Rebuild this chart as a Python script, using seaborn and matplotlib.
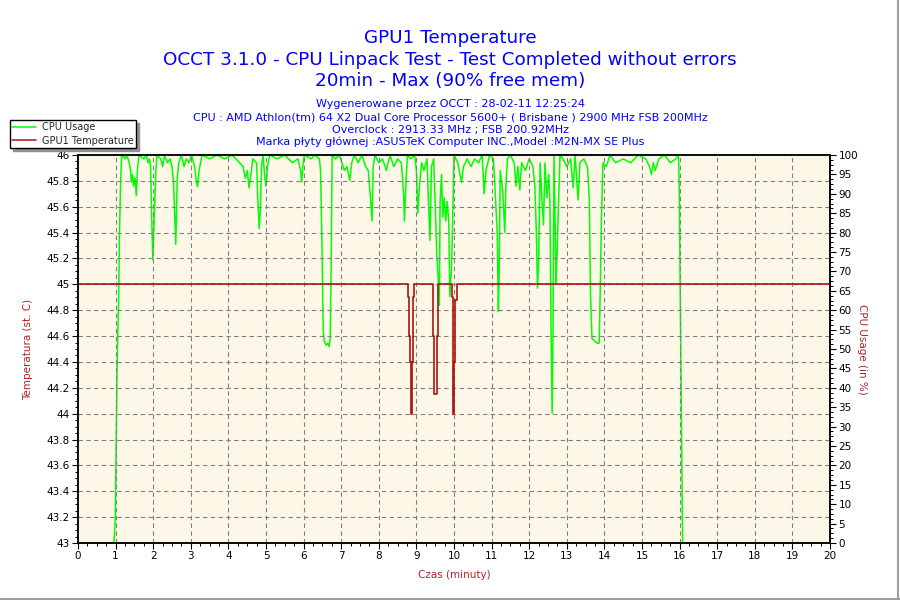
import numpy as np
import matplotlib
matplotlib.use('Agg')
import matplotlib.pyplot as plt
import seaborn as sns
from matplotlib.ticker import MultipleLocator, AutoMinorLocator, FuncFormatter
from matplotlib.lines import Line2D

# CPU usage (minutes, %)
cpu_time = [0.0, 0.95, 0.97, 0.99, 1.02, 1.04, 1.06, 1.08, 1.10, 1.13, 1.16, 1.25, 1.30, 1.36,
            1.40, 1.42, 1.45, 1.48, 1.52, 1.55, 1.58, 1.62, 1.75, 1.82, 1.86, 1.90, 1.93, 1.95,
            1.97, 1.99, 2.01, 2.03, 2.05, 2.07, 2.10, 2.20, 2.25, 2.30, 2.38, 2.45, 2.50, 2.54,
            2.57, 2.60, 2.62, 2.64, 2.68, 2.75, 2.82, 2.88, 2.95, 3.02, 3.10, 3.15, 3.18, 3.22,
            3.30, 3.50, 3.70, 3.90, 4.10, 4.30, 4.39, 4.45, 4.50, 4.55, 4.60, 4.65, 4.75, 4.78,
            4.82, 4.85, 4.88, 4.92, 4.97, 5.00, 5.04, 5.10, 5.30, 5.50, 5.70, 5.85, 5.92, 5.95,
            5.98, 6.02, 6.20, 6.30, 6.42, 6.45, 6.47, 6.50, 6.52, 6.55, 6.60, 6.65, 6.68, 6.71,
            6.73, 6.76, 6.85, 6.95, 7.02, 7.08, 7.15, 7.23, 7.28, 7.35, 7.45, 7.55, 7.65, 7.72,
            7.77, 7.82, 7.85, 7.90, 8.00, 8.10, 8.20, 8.30, 8.40, 8.50, 8.60, 8.66, 8.68, 8.72,
            8.76, 8.85, 8.95, 9.00, 9.04, 9.08, 9.14, 9.20, 9.28, 9.32, 9.36, 9.40, 9.46, 9.50,
            9.54, 9.58, 9.61, 9.63, 9.67, 9.70, 9.74, 9.78, 9.82, 9.86, 9.89, 9.93, 9.96, 10.00,
            10.10, 10.20, 10.25, 10.35, 10.45, 10.55, 10.65, 10.75, 10.80, 10.85, 10.95, 11.05,
            11.15, 11.18, 11.20, 11.23, 11.30, 11.35, 11.38, 11.42, 11.50, 11.60, 11.65, 11.70,
            11.75, 11.80, 11.90, 12.00, 12.10, 12.15, 12.19, 12.22, 12.25, 12.29, 12.33, 12.38,
            12.42, 12.47, 12.52, 12.55, 12.58, 12.61, 12.63, 12.66, 12.69, 12.71, 12.74, 12.78,
            12.82, 12.90, 13.00, 13.10, 13.17, 13.22, 13.30, 13.35, 13.45, 13.55, 13.60, 13.63,
            13.67, 13.75, 13.81, 13.86, 13.89, 13.92, 13.96, 14.05, 14.15, 14.30, 14.50, 14.70,
            14.90, 15.10, 15.20, 15.25, 15.30, 15.35, 15.45, 15.60, 15.75, 15.90, 15.97, 15.99,
            16.02, 16.05, 16.08, 20.0]
cpu_value = [0, 0, 2, 6, 30, 45, 55, 62, 78, 92, 100, 99, 100, 98,
             96, 93, 95, 92, 94, 89.5, 96, 100, 99, 100, 98, 99, 97, 88,
             80, 73, 79, 85, 90, 96, 100, 99, 97, 100, 98, 99, 97, 93,
             85, 77, 85, 94, 98, 100, 97, 99, 98, 100, 97, 93, 91.8, 96,
             100, 99, 100, 99, 100, 98, 97, 94, 96, 91.5, 95, 99, 98, 89,
             81, 86, 97, 100, 94, 92, 97, 100, 99, 100, 98, 99, 96, 93,
             97, 100, 99, 100, 99, 96, 87, 70, 55, 52, 51, 51.5, 50.6, 53,
             70, 100, 99, 100, 98, 96, 97, 93.5, 98, 100, 98, 100, 97, 96,
             90, 83, 97, 100, 98, 99, 96, 100, 97, 99, 98, 90, 83, 92,
             100, 99, 100, 96, 85, 92, 98, 96, 99, 88, 78, 97, 99, 87,
             75, 68, 61.3, 88, 95, 84, 89, 83, 88, 83, 63.5, 70, 80.7, 100,
             98, 93, 97, 99, 97, 99, 98, 100, 90, 96, 100, 99,
             80, 59.6, 68.6, 96, 90, 80, 92, 99, 100, 98, 92, 97,
             91, 98, 96, 99, 97, 92, 80, 65.7, 72, 98, 90, 82,
             98, 89, 95, 88, 56, 33.4, 50, 100, 82, 67, 74, 87.6,
             100, 99, 97, 99, 91.5, 100, 88.4, 98, 99, 97, 88, 64,
             52.7, 52, 51.5, 51.5, 65, 83, 98, 97, 100, 98, 99, 98,
             100, 99, 97, 95, 98, 96, 99, 100, 98, 99, 100, 92,
             62, 32, 0, 0]

# GPU1 temperature (minutes, st. C), step changes
temp_time = [0.0, 8.785, 8.81, 8.835, 8.85, 8.86, 8.89, 8.915, 8.935,
             9.45, 9.475, 9.54, 9.565,
             9.94, 9.965, 9.98, 10.008, 10.027, 10.07, 20.0]
temp_value = [45, 44.9, 44.6, 44.4, 44.2, 44.0, 44.4, 44.9, 45,
              44.6, 44.15, 44.6, 45,
              44.9, 44.4, 44.0, 44.4, 44.88, 45, 45]

title_lines = ['GPU1 Temperature',
               'OCCT 3.1.0 - CPU Linpack Test - Test Completed without errors',
               '20min - Max (90% free mem)']
info_lines = ['Wygenerowane przez OCCT : 28-02-11 12:25:24',
              'CPU : AMD Athlon(tm) 64 X2 Dual Core Processor 5600+ ( Brisbane ) 2900 MHz FSB 200MHz',
              'Overclock : 2913.33 MHz ; FSB 200.92MHz',
              'Marka płyty głównej :ASUSTeK Computer INC.,Model :M2N-MX SE Plus']

GREEN = '#00ff00'
RED = '#aa1414'
LABEL_RED = '#b22222'
BLUE = '#0000ff'

sns.set_theme(style='white')
plt.rcParams['font.family'] = ['DejaVu Sans']

fig = plt.figure(figsize=(9, 6), dpi=100)
fig.patch.set_facecolor('white')

ax = fig.add_axes([78 / 900, 57 / 600, 752 / 900, 388 / 600])
ax2 = ax.twinx()

# CPU axis behind, with the cream background; temperature axis on top
ax2.set_zorder(1)
ax.set_zorder(2)
ax.patch.set_visible(False)
ax2.patch.set_visible(True)
ax2.patch.set_facecolor('#fdf7e8')

sns.lineplot(x=cpu_time, y=cpu_value, ax=ax2, color=GREEN, linewidth=1.1,
             estimator=None, sort=False)
sns.lineplot(x=temp_time, y=temp_value, ax=ax, color=RED, linewidth=1.2,
             estimator=None, sort=False, drawstyle='steps-post')

ax.set_xlim(0, 20)
ax.set_ylim(43, 46)
ax2.set_ylim(0, 100)

ax.xaxis.set_major_locator(MultipleLocator(1))
ax.xaxis.set_minor_locator(AutoMinorLocator(4))
ax.yaxis.set_major_locator(MultipleLocator(0.2))
ax.yaxis.set_minor_locator(AutoMinorLocator(4))
ax.yaxis.set_major_formatter(FuncFormatter(lambda v, p: f'{v:.1f}'.rstrip('0').rstrip('.')))
ax2.yaxis.set_major_locator(MultipleLocator(5))
ax2.yaxis.set_minor_locator(AutoMinorLocator(4))

for a in (ax, ax2):
    a.tick_params(which='major', direction='out', length=4, width=0.8, color='black',
                  labelsize=7.5, labelcolor='black', pad=2)
    a.tick_params(which='minor', direction='out', length=2, width=0.7, color='black')
    for s in a.spines.values():
        s.set_color('black')
        s.set_linewidth(1.1)
ax.tick_params(axis='x', which='both', bottom=True)
ax.tick_params(axis='y', which='both', left=True)
ax2.tick_params(axis='y', which='both', right=True)

ax.grid(True, which='major', color='#808080', linestyle=(0, (4, 3)), linewidth=0.8)

ax.set_xlabel('Czas (minuty)', color=LABEL_RED, fontsize=7.5)
ax.set_ylabel('Temperatura (st. C)', color=LABEL_RED, fontsize=7.5)
ax2.set_ylabel('CPU Usage (in %)', color=LABEL_RED, fontsize=7.5, rotation=270)
ax.xaxis.set_label_coords(0.5, -0.07)
ax.yaxis.set_label_coords(-0.06, 0.5)
ax2.yaxis.set_label_coords(1.049, 0.5)

# titles
for txt, ypix in zip(title_lines, [38, 60, 81]):
    fig.text(0.5, 1 - ypix / 600, txt, ha='center', va='center', color=BLUE, fontsize=13.2)
for txt, ypix in zip(info_lines, [104, 117, 130, 142]):
    fig.text(0.5, 1 - ypix / 600, txt, ha='center', va='center', color=BLUE, fontsize=8)

handles = [Line2D([], [], color=GREEN, linewidth=1.1),
           Line2D([], [], color=RED, linewidth=1.1)]
leg = fig.legend(handles, ['CPU Usage', 'GPU1 Temperature'], loc='upper left',
                 bbox_to_anchor=(10 / 900, 1 - 120 / 600), fontsize=7,
                 frameon=True, fancybox=False, shadow={'color': '#909090', 'alpha': 1},
                 borderpad=0.25, labelspacing=0.35, handlelength=2.4, handletextpad=0.6,
                 borderaxespad=0)
leg.get_frame().set_edgecolor('black')
leg.get_frame().set_linewidth(1.0)
leg.set_zorder(10)

# grey border at right and bottom of the picture
fig.add_artist(Line2D([0.998, 0.998], [0, 1], transform=fig.transFigure, color='#a0a0a0', linewidth=1.5))
fig.add_artist(Line2D([0, 1], [0.002, 0.002], transform=fig.transFigure, color='#a0a0a0', linewidth=1.5))

fig.savefig('out.png', dpi=100)
